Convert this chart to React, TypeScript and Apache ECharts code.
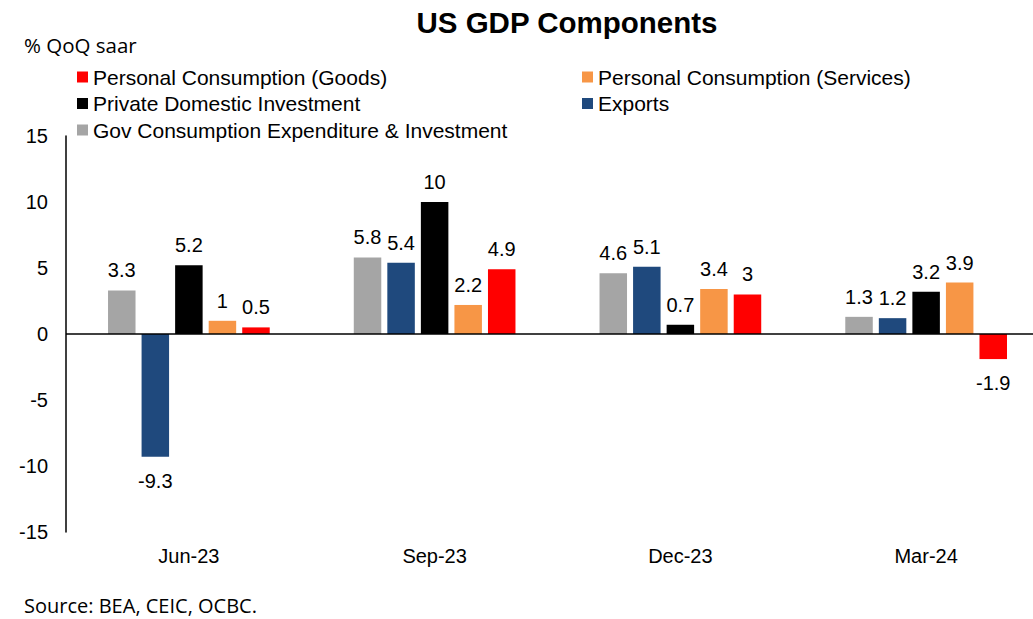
import React, { useEffect, useRef } from "react";
import * as echarts from "echarts";

const categories = ["Jun-23", "Sep-23", "Dec-23", "Mar-24"];
const govValues = [3.3, 5.8, 4.6, 1.3];
const exportsValues = [-9.3, 5.4, 5.1, 1.2];
const pdiValues = [5.2, 10, 0.7, 3.2];
const servicesValues = [1, 2.2, 3.4, 3.9];
const goodsValues = [0.5, 4.9, 3, -1.9];

const NAMES = {
  goods: "Personal Consumption (Goods)",
  services: "Personal Consumption (Services)",
  pdi: "Private Domestic Investment",
  exports: "Exports",
  gov: "Gov Consumption Expenditure & Investment",
};

const FONT = "Liberation Sans, Arial, sans-serif";

function toData(vals: number[]) {
  return vals.map((v) =>
    v < 0
      ? { value: v, label: { position: "bottom", distance: 14 } }
      : { value: v }
  );
}

function barSeries(name: string, vals: number[], color: string, extra: any = {}) {
  return {
    name,
    type: "bar",
    data: toData(vals),
    barWidth: 27.5,
    barGap: "22%",
    itemStyle: { color },
    label: {
      show: true,
      position: "top",
      distance: 10,
      color: "#000",
      fontSize: 20,
      fontFamily: FONT,
    },
    ...extra,
  };
}

export default function App() {
  const ref = useRef<HTMLDivElement>(null);
  useEffect(() => {
    if (!ref.current) return;
    const chart = echarts.init(ref.current, null, { renderer: "svg" });
    const legendText = { fontSize: 21, fontFamily: FONT, color: "#000", lineHeight: 22 };
    chart.setOption({
      animation: false,
      backgroundColor: "#fff",
      title: {
        text: "US GDP Components",
        left: 567,
        top: 7,
        textAlign: "center",
        padding: 0,
        textStyle: { fontSize: 29.5, fontWeight: "bold", fontFamily: FONT, color: "#000" },
      },
      graphic: [
        {
          type: "text",
          left: 24,
          top: 34,
          style: { text: "% QoQ saar", fontSize: 20.5, fontFamily: "Open Sans, sans-serif", fill: "#000" },
        },
        {
          type: "text",
          left: 24,
          top: 595,
          style: {
            text: "Source: BEA, CEIC, OCBC.",
            fontSize: 20,
            lineHeight: 20,
            fontFamily: "Open Sans, sans-serif",
            fill: "#000",
          },
        },
      ],
      legend: [
        {
          orient: "vertical",
          left: 77,
          top: 66,
          padding: 0,
          itemWidth: 11,
          itemHeight: 11,
          itemGap: 4.5,
          icon: "rect",
          textStyle: legendText,
          data: [NAMES.goods, NAMES.pdi, NAMES.gov],
        },
        {
          orient: "vertical",
          left: 582,
          top: 66,
          padding: 0,
          itemWidth: 11,
          itemHeight: 11,
          itemGap: 4.5,
          icon: "rect",
          textStyle: legendText,
          data: [NAMES.services, NAMES.exports],
        },
      ],
      grid: { left: 66, top: 136, right: 0, bottom: 87, containLabel: false },
      xAxis: {
        type: "category",
        data: categories,
        position: "bottom",
        axisLine: { show: false, onZero: false },
        axisTick: { show: false },
        axisLabel: { fontSize: 20, fontFamily: FONT, color: "#000", margin: 14 },
      },
      yAxis: {
        type: "value",
        min: -15,
        max: 15,
        interval: 5,
        axisLine: { show: true, lineStyle: { color: "#000", width: 1.5 } },
        axisTick: { show: false },
        splitLine: { show: false },
        axisLabel: { fontSize: 20, fontFamily: FONT, color: "#000", margin: 18 },
      },
      series: [
        barSeries(NAMES.gov, govValues, "#A5A5A5", {
          markLine: {
            silent: true,
            symbol: "none",
            label: { show: false },
            lineStyle: { color: "#000", width: 1.5, type: "solid" },
            data: [{ yAxis: 0 }],
          },
        }),
        barSeries(NAMES.exports, exportsValues, "#1F497D"),
        barSeries(NAMES.pdi, pdiValues, "#000000"),
        barSeries(NAMES.services, servicesValues, "#F79646"),
        barSeries(NAMES.goods, goodsValues, "#FF0000"),
      ],
    });
    return () => chart.dispose();
  }, []);
  return (
    <div
      style={{
        position: "fixed",
        left: 0,
        top: 0,
        width: 1033,
        height: 619,
        overflow: "hidden",
        background: "#fff",
      }}
    >
      <div ref={ref} style={{ width: 1049, height: 619, background: "#fff" }} />
    </div>
  );
}
